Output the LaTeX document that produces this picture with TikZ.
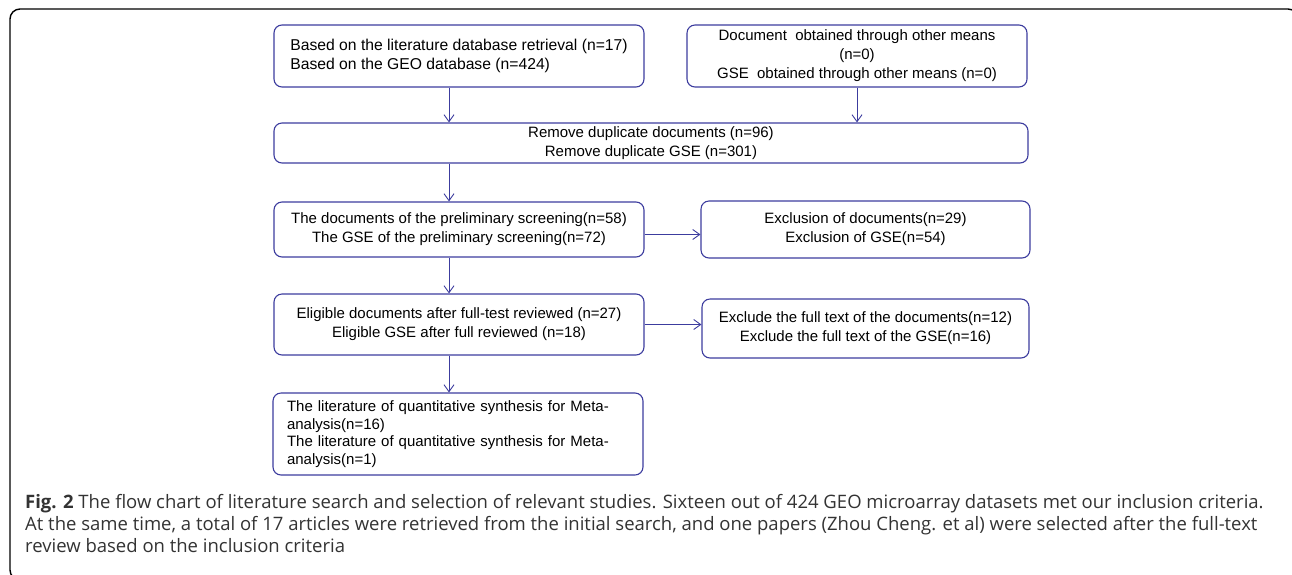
\documentclass[tikz,border=0pt]{standalone}
\usepackage{fontspec}
\setmainfont{Liberation Sans}
\newfontfamily\capfont{Open Sans}
\usetikzlibrary{arrows.meta}

\definecolor{boxblue}{RGB}{60,60,158}
\definecolor{captext}{RGB}{51,51,51}

\tikzset{
  flowbox/.style={draw=boxblue, line width=1.1pt, rounded corners=8pt, inner sep=0pt,
    font=\fontsize{15}{19}\selectfont},
  flowarrow/.style={draw=boxblue, line width=0.9pt, -{Straight Barb[length=7pt,width=10pt]}}
}

\begin{document}
\begin{tikzpicture}[x=1pt, y=-1pt]
\useasboundingbox (0,0) rectangle (1292,574);

% Outer frame
\draw[line width=1.4pt, rounded corners=10pt] (10,9) rectangle (1298,580);

% ── Identification ──
\node[flowbox, minimum width=370pt, minimum height=62pt, align=left,
  font=\fontsize{15.7}{19.5}\selectfont] (lit) at (459,56)
  {Based on the literature database retrieval (n=17)\\Based on the GEO database (n=424)};
\node[flowbox, minimum width=340pt, minimum height=62pt, align=center] (other) at (857,56)
  {Document~~obtained through other means\\(n=0)\\GSE~~obtained through other means (n=0)};

% Duplicates
\node[flowbox, minimum width=754pt, minimum height=40pt, align=center] (dup) at (651,143)
  {Remove duplicate documents (n=96)\\Remove duplicate GSE (n=301)};

% ── Screening ──
\node[flowbox, minimum width=370pt, minimum height=55pt, align=center] (prelim) at (459,229.5)
  {The documents of the preliminary screening(n=58)\\The GSE of the preliminary screening(n=72)};
\node[flowbox, minimum width=329pt, minimum height=57pt, align=center] (exclA) at (865.5,229.5)
  {Exclusion of documents(n=29)\\Exclusion of GSE(n=54)};

% ── Eligibility ──
\node[flowbox, minimum width=370pt, minimum height=61pt, align=center] (elig) at (459,324.5)
  {Eligible documents after full-test reviewed (n=27)\\Eligible GSE after full reviewed (n=18)};
\node[flowbox, minimum width=327pt, minimum height=59pt, align=center] (exclB) at (865.5,328.5)
  {Exclude the full text of the documents(n=12)\\Exclude the full text of the GSE(n=16)};

% ── Included ──
\node[flowbox, minimum width=370pt, minimum height=82pt, text width=342pt, align=left,
  font=\fontsize{15}{17.5}\selectfont] (final) at (458,434)
  {The literature of quantitative synthesis for Meta-\\analysis(n=16)\\
   The literature of quantitative synthesis for Meta-\\analysis(n=1)};

% Connectors
\draw[flowarrow] ([xshift=-10pt]lit.south) -- ([xshift=-10pt]lit.south |- dup.north);
\draw[flowarrow] (other.south) -- (other.south |- dup.north);
\draw[flowarrow] ([xshift=-10pt]prelim.north |- dup.south) -- ([xshift=-10pt]prelim.north);
\draw[flowarrow] ([yshift=-5pt]prelim.east) -- ([yshift=-5pt]prelim.east -| exclA.west);
\draw[flowarrow] ([xshift=-10pt]elig.north |- prelim.south) -- ([xshift=-10pt]elig.north);
\draw[flowarrow] (elig.east) -- (elig.east -| exclB.west);
\draw[flowarrow] ([xshift=-9pt]final.north |- elig.south) -- ([xshift=-9pt]final.north);

% Caption (base = last line)
\node[font=\capfont\fontsize{18.5}{22}\selectfont, text=captext, anchor=base west,
  inner sep=0pt, align=left] (caption) at (25,552)
  {\textbf{Fig. 2} The flow chart of literature search and selection of relevant studies. Sixteen out of 424 GEO microarray datasets met our inclusion criteria.\\
   At the same time, a total of 17 articles were retrieved from the initial search, and one papers (Zhou Cheng. et al) were selected after the full-text\\
   review based on the inclusion criteria};

\end{tikzpicture}
\end{document}
